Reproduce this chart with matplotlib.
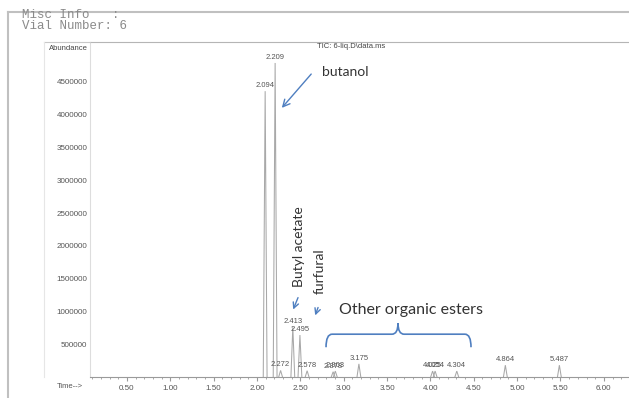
import matplotlib
matplotlib.use("Agg")
import matplotlib.pyplot as plt
from matplotlib.path import Path
from matplotlib.patches import PathPatch
from matplotlib.lines import Line2D
import matplotlib.ticker as mticker

# ---- data ----
peak_times = [2.094, 2.209, 2.272, 2.413, 2.495, 2.578, 2.878, 2.903, 3.175,
              4.025, 4.054, 4.304, 4.864, 5.487]
peak_heights = [4360000, 4790000, 100000, 760000, 640000, 95000, 80000, 90000, 200000,
                90000, 90000, 90000, 180000, 180000]
peak_labels = ["2.094", "2.209", "2.272", "2.413", "2.495", "2.578", "2.878", "2.903", "3.175",
               "4.025", "4.054", "4.304", "4.864", "5.487"]
y_ticks = [500000, 1000000, 1500000, 2000000, 2500000, 3000000, 3500000, 4000000, 4500000]
x_ticks = [0.5, 1.0, 1.5, 2.0, 2.5, 3.0, 3.5, 4.0, 4.5, 5.0, 5.5, 6.0]
x_ticklabels = ["0.50", "1.00", "1.50", "2.00", "2.50", "3.00", "3.50", "4.00", "4.50", "5.00", "5.50", "6.00"]

W, H = 629, 398
fig = plt.figure(figsize=(W / 100, H / 100), dpi=100)
fig.patch.set_facecolor("white")

def fx(x):
    return x / W

def fy(y):
    return 1 - y / H

ax_l, ax_t, ax_r, ax_b = 90, 42, 629, 377
ax = fig.add_axes([fx(ax_l), fy(ax_b), fx(ax_r - ax_l), (ax_b - ax_t) / H])
ax.set_xlim(0.074, 6.29)
ax.set_ylim(0, 5110000)

gray_line = "#a8a8a8"
txt_gray = "#555555"
blue = "#4f7fc0"

# peaks as narrow spikes
hw = 0.022
for t, h in zip(peak_times, peak_heights):
    ax.plot([t - hw, t, t + hw], [0, h, 0], color=gray_line, lw=0.75, solid_joinstyle="miter")
for t, h, lab in zip(peak_times, peak_heights, peak_labels):
    ax.annotate(lab, (t, h), xytext=(0, 1.5), textcoords="offset points",
                ha="center", va="bottom", fontsize=5.5, color=txt_gray,
                family="Liberation Sans")

# axes styling
ax.spines["right"].set_visible(False)
ax.spines["top"].set_color("#b5b5b5")
ax.spines["left"].set_color("#dddddd")
ax.spines["bottom"].set_color("#9a9a9a")
for s in ["top", "left", "bottom"]:
    ax.spines[s].set_linewidth(0.8)

ax.set_yticks(y_ticks)
ax.set_yticklabels([str(v) for v in y_ticks], fontsize=5.8, color=txt_gray, family="Liberation Sans")
ax.tick_params(axis="y", length=0, pad=2)
ax.set_xticks(x_ticks)
ax.set_xticklabels(x_ticklabels, fontsize=5.8, color=txt_gray, family="Liberation Sans")
ax.xaxis.set_minor_locator(mticker.MultipleLocator(0.1))
ax.tick_params(axis="x", which="major", length=3, color="#9a9a9a", pad=3)
ax.tick_params(axis="x", which="minor", length=1.5, color="#9a9a9a")

# header & frame
fig.text(fx(22), fy(15), "Misc Info   :", fontsize=9, family="Liberation Mono", color="#8a8a8a", va="center")
fig.text(fx(22), fy(26), "Vial Number: 6", fontsize=9, family="Liberation Mono", color="#8a8a8a", va="center")
fig.add_artist(Line2D([fx(8), 1], [fy(12), fy(12)], color="#c0c0c0", lw=1.5))
fig.add_artist(Line2D([fx(8), fx(8)], [fy(12), 0], color="#c0c0c0", lw=1.5))
fig.add_artist(Line2D([fx(44), fx(90)], [fy(42), fy(42)], color="#c8c8c8", lw=0.8))
fig.add_artist(Line2D([fx(44), fx(44)], [fy(42), fy(377)], color="#e6e6e6", lw=0.8))
fig.text(fx(88), fy(49), "Abundance", fontsize=5.5, color="#444444", ha="right", va="center", family="Liberation Sans")
fig.text(fx(57), fy(386), "Time-->", fontsize=5.5, color=txt_gray, ha="left", va="center", family="Liberation Sans")
fig.text(fx(317), fy(46), "TIC: 6-liq.D\\data.ms", fontsize=5.5, color="#444444", ha="left", va="center", family="Liberation Sans")

# annotations
ann_font = "Lato"
ax.text(2.75, 4653000, "butanol", fontsize=10, family=ann_font, color="#333333", ha="left", va="center")
ax.annotate("", xy=(2.265, 4073000), xytext=(2.646, 4653000),
            arrowprops=dict(arrowstyle="->,head_length=0.5,head_width=0.25", color=blue, lw=1.0))

ax.text(2.48, 1990000, "Butyl acetate", fontsize=10, family=ann_font, color="#333333",
        rotation=90, ha="center", va="center")
ax.text(2.72, 1610000, "furfural", fontsize=10, family=ann_font, color="#333333",
        rotation=90, ha="center", va="center")
ax.annotate("", xy=(2.405, 990000), xytext=(2.485, 1250000),
            arrowprops=dict(arrowstyle="->,head_length=0.4,head_width=0.2", color=blue, lw=1.0))
ax.annotate("", xy=(2.66, 900000), xytext=(2.715, 1100000),
            arrowprops=dict(arrowstyle="->,head_length=0.4,head_width=0.2", color=blue, lw=1.0))

ax.text(3.78, 1020000, "Other organic esters", fontsize=11.5, family=ann_font, color="#333333",
        ha="center", va="center")

# brace
L, R, C = 2.796, 4.468, 3.626
yb, yl, yt = 454000, 653000, 821000
d = 0.07
verts = [(L, yb), (L, yl), (L + d, yl), (C - d, yl), (C, yl), (C, yt),
         (C, yl), (C + d, yl), (R - d, yl), (R, yl), (R, yb)]
codes = [Path.MOVETO, Path.CURVE3, Path.CURVE3, Path.LINETO, Path.CURVE3, Path.CURVE3,
         Path.CURVE3, Path.CURVE3, Path.LINETO, Path.CURVE3, Path.CURVE3]
ax.add_patch(PathPatch(Path(verts, codes), facecolor="none", edgecolor=blue, lw=1.2))

fig.savefig("out.png", dpi=100, facecolor="white")
